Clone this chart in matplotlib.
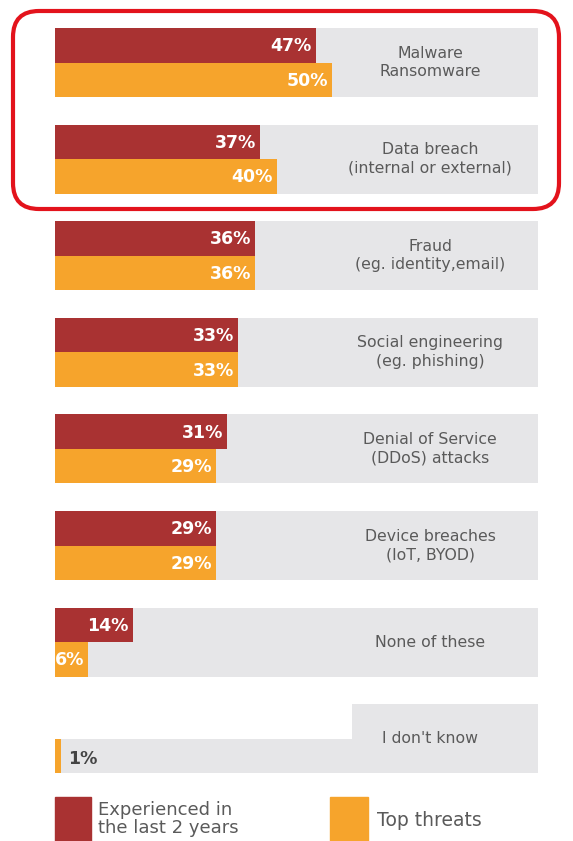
import matplotlib.pyplot as plt
from matplotlib.patches import FancyBboxPatch, Rectangle

categories = ["Malware\nRansomware", "Data breach\n(internal or external)",
              "Fraud\n(eg. identity,email)", "Social engineering\n(eg. phishing)",
              "Denial of Service\n(DDoS) attacks", "Device breaches\n(IoT, BYOD)",
              "None of these", "I don't know"]
experienced = [47, 37, 36, 33, 31, 29, 14, 0]
top_threats = [50, 40, 36, 33, 29, 29, 6, 1]

RED = "#A93232"
ORANGE = "#F6A42C"
GRAY = "#E6E6E8"
TEXT = "#5a5a5a"

plt.rcParams["font.family"] = ["DejaVu Sans"]

fig = plt.figure(figsize=(5.73, 8.41), dpi=100)
ax = fig.add_axes([0, 0, 1, 1])

# layout in pixels, values in percent
px = 5.55
x0 = 55
ax.set_xlim(-x0 / px, (573 - x0) / px)
ax.set_ylim(841, 0)
ax.axis("off")

top0 = 28
step = 96.6
bh = 34.5
bg_end = 87

for i, (cat, e, t) in enumerate(zip(categories, experienced, top_threats)):
    top = top0 + i * step
    yr = top + bh / 2
    yo = top + bh * 1.5
    # grey background
    if e == 0:
        ax.barh(yr, bg_end - 53.5, left=53.5, height=bh, color=GRAY, zorder=0)
    else:
        ax.barh(yr, bg_end, height=bh, color=GRAY, zorder=0)
    ax.barh(yo, bg_end, height=bh, color=GRAY, zorder=0)

    if e > 0:
        ax.barh(yr, e, height=bh, color=RED, zorder=1)
        ax.text(e - 0.7, yr + 1, f"{e}%", color="white", fontsize=12.5,
                fontweight="bold", ha="right", va="center", zorder=2)
    ax.barh(yo, t, height=bh, color=ORANGE, zorder=1)
    if t >= 5:
        ax.text(t - 0.7, yo + 1, f"{t}%", color="white", fontsize=12.5,
                fontweight="bold", ha="right", va="center", zorder=2)
    else:
        ax.text(t + 1.3, yo + 3, f"{t}%", color="#444444", fontsize=12.5,
                fontweight="bold", ha="left", va="center", zorder=2)

    ax.text(67.6, top + bh, cat, color=TEXT, fontsize=11.3, ha="center",
            va="center", linespacing=1.3, zorder=2)

# overlay in plain pixel units for frame and legend
ov = fig.add_axes([0, 0, 1, 1], facecolor="none")
ov.set_xlim(0, 573)
ov.set_ylim(841, 0)
ov.axis("off")

ov.add_patch(FancyBboxPatch((13, 11), 546, 198, boxstyle="round,pad=0,rounding_size=26",
                            fill=False, edgecolor="#E3131C", linewidth=3))

ov.add_patch(Rectangle((55, 797), 36, 44, color=RED))
ov.text(98, 819, "Experienced in\nthe last 2 years", color=TEXT, fontsize=13,
        ha="left", va="center", linespacing=0.95)
ov.add_patch(Rectangle((330, 797), 38, 44, color=ORANGE))
ov.text(377, 821, "Top threats", color=TEXT, fontsize=13.5, ha="left", va="center")

fig.savefig("out.png", dpi=100)
